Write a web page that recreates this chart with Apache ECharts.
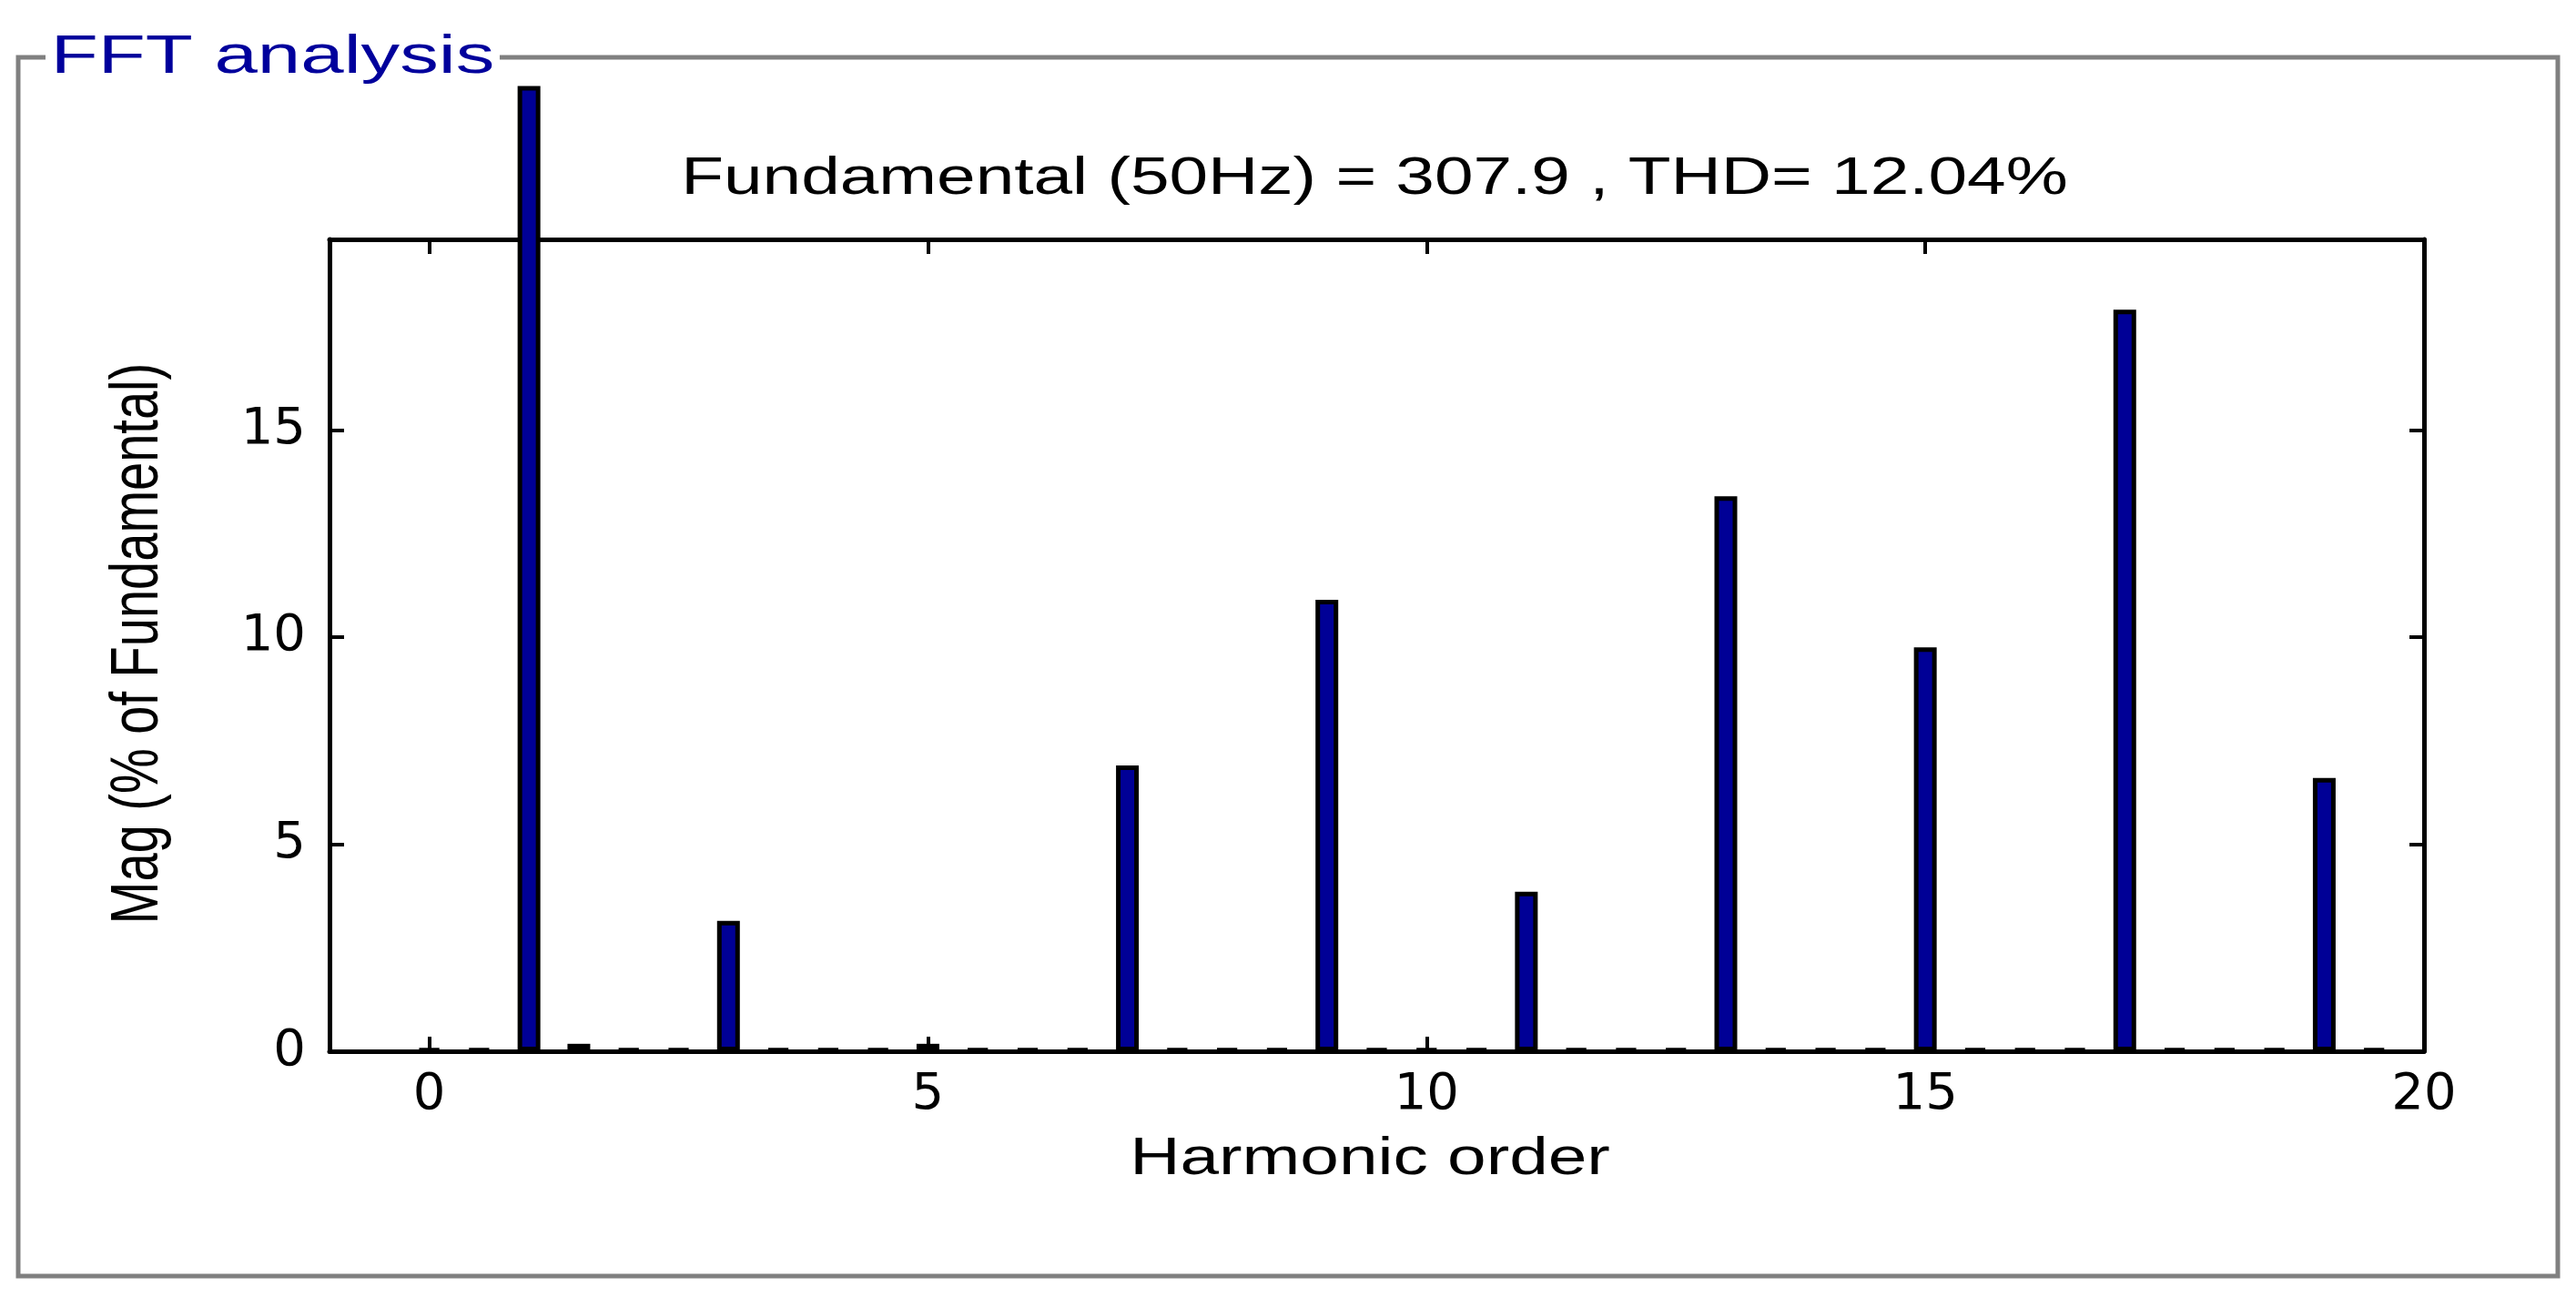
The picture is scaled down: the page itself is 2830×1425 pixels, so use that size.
<!DOCTYPE html>
<html>
<head>
<meta charset="utf-8">
<title>FFT analysis</title>
<script src="https://cdn.jsdelivr.net/npm/echarts@6/dist/echarts.min.js"></script>
<style>
  html, body { margin: 0; padding: 0; background: #fff; }
  #fft-chart { width: 2830px; height: 1425px; }
</style>
</head>
<body>
<div id="fft-chart"></div>
<script>
// harmonic orders (step 0.5) and magnitude in % of fundamental
const harmonicOrder = [
  0, 0.5, 1, 1.5, 2, 2.5, 3, 3.5, 4, 4.5,
  5, 5.5, 6, 6.5, 7, 7.5, 8, 8.5, 9, 9.5,
  10, 10.5, 11, 11.5, 12, 12.5, 13, 13.5, 14, 14.5,
  15, 15.5, 16, 16.5, 17, 17.5, 18, 18.5, 19, 19.5
];
const magnitude = [
  0.06, 0.06, 23.3, 0.18, 0.06, 0.06, 3.15, 0.06, 0.06, 0.06,
  0.18, 0.06, 0.06, 0.06, 6.9, 0.06, 0.06, 0.06, 10.9, 0.06,
  0.06, 0.06, 3.85, 0.06, 0.06, 0.06, 13.4, 0.06, 0.06, 0.06,
  9.75, 0.06, 0.06, 0.06, 17.9, 0.06, 0.06, 0.06, 6.6, 0.06
];
const xTicks = [0, 5, 10, 15, 20];
const yTicks = [0, 5, 10, 15];

const panelTitle = 'FFT analysis';
const plotTitle = 'Fundamental (50Hz) = 307.9 , THD= 12.04%';
const xName = 'Harmonic order';
const yName = 'Mag (% of Fundamental)';

const chart = echarts.init(document.getElementById('fft-chart'));

const textFont = 'Liberation Sans';
const stretch = 1.32;

function axisCommon(ticks) {
  return {
    axisLine: { show: true, onZero: false, lineStyle: { color: '#000', width: 5 } },
    axisTick: { show: true, inside: true, length: 16, customValues: ticks, lineStyle: { color: '#000', width: 4 } },
    splitLine: { show: false }
  };
}

const option = {
  backgroundColor: '#fff',
  animation: false,
  grid: { left: 362, right: 167, top: 263, bottom: 270 },
  xAxis: [
    Object.assign({
      type: 'value', position: 'bottom', min: -1, max: 20,
      axisLabel: { customValues: xTicks, color: '#000', fontFamily: 'DejaVu Sans', fontSize: 56, margin: 20 }
    }, axisCommon(xTicks)),
    Object.assign({
      type: 'value', position: 'top', min: -1, max: 20,
      axisLabel: { show: false }
    }, axisCommon(xTicks))
  ],
  yAxis: [
    Object.assign({
      type: 'value', position: 'left', min: 0, max: 19.6,
      axisLabel: { customValues: yTicks, color: '#000', fontFamily: 'DejaVu Sans', fontSize: 56, margin: 26 }
    }, axisCommon(yTicks)),
    Object.assign({
      type: 'value', position: 'right', min: 0, max: 19.6,
      axisLabel: { show: false }
    }, axisCommon(yTicks))
  ],
  series: [
    {
      type: 'bar',
      xAxisIndex: 0,
      yAxisIndex: 0,
      clip: false,
      barWidth: 25,
      itemStyle: { color: '#000096', borderColor: '#000', borderWidth: 5 },
      data: harmonicOrder.map((h, i) => [h, magnitude[i]])
    }
  ],
  graphic: [
    {
      type: 'rect', z: 0,
      shape: { x: 20, y: 63, width: 2790, height: 1339 },
      style: { fill: 'none', stroke: '#808080', lineWidth: 5 }
    },
    {
      type: 'text', z: 10, x: 50, y: 63, scaleX: 1.42,
      style: {
        text: panelTitle, fill: '#00009c', font: '60px "' + textFont + '"',
        backgroundColor: '#fff', padding: [0, 4],
        align: 'left', verticalAlign: 'middle', textAlign: 'left', textVerticalAlign: 'middle'
      }
    },
    {
      type: 'text', z: 10, x: 1510, y: 197, scaleX: stretch,
      style: {
        text: plotTitle, fill: '#000', font: '58px "' + textFont + '"',
        align: 'center', verticalAlign: 'middle', textAlign: 'center', textVerticalAlign: 'middle'
      }
    },
    {
      type: 'text', z: 10, x: 1505, y: 1274, scaleX: stretch,
      style: {
        text: xName, fill: '#000', font: '58px "' + textFont + '"',
        align: 'center', verticalAlign: 'middle', textAlign: 'center', textVerticalAlign: 'middle'
      }
    },
    {
      type: 'text', z: 10, x: 153, y: 707, rotation: Math.PI / 2, scaleY: stretch,
      style: {
        text: yName, fill: '#000', font: '56px "' + textFont + '"',
        align: 'center', verticalAlign: 'middle', textAlign: 'center', textVerticalAlign: 'middle'
      }
    }
  ]
};

chart.setOption(option);
</script>
</body>
</html>
